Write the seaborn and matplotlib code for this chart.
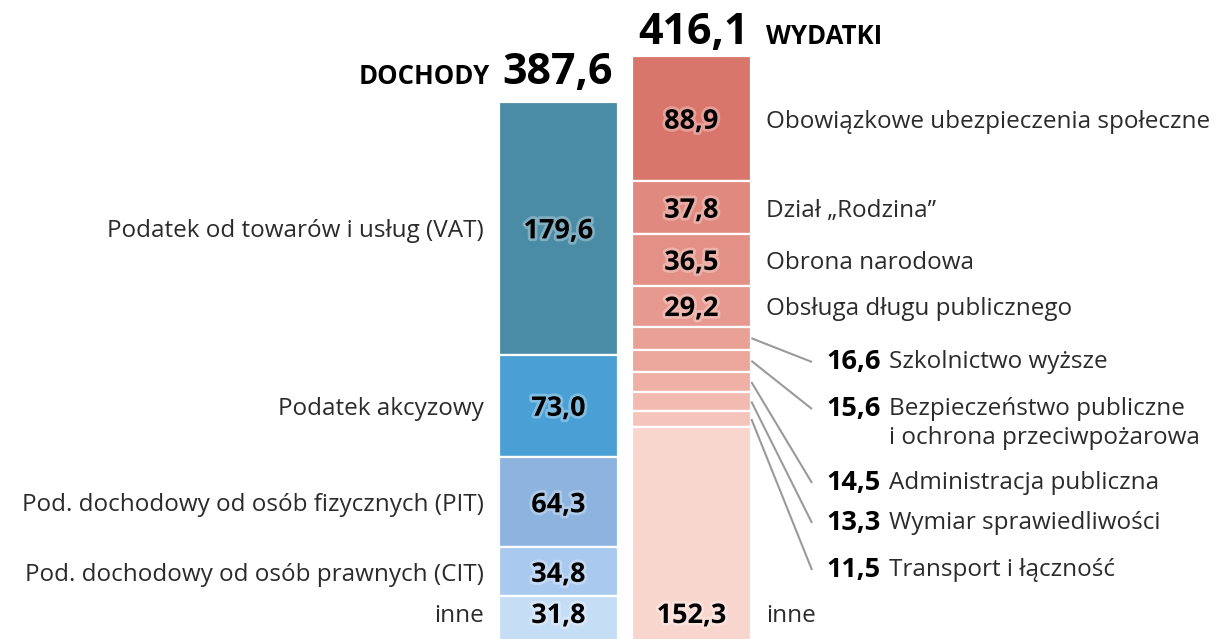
import matplotlib
matplotlib.use("Agg")
import matplotlib.pyplot as plt
import matplotlib.patheffects as pe
import matplotlib.colors as mcolors
import seaborn as sns
import numpy as np

# ---- data ----
bars = ["DOCHODY", "WYDATKI"]
totals = ["387,6", "416,1"]

income_labels = ["Podatek od towarów i usług (VAT)", "Podatek akcyzowy",
                 "Pod. dochodowy od osób fizycznych (PIT)",
                 "Pod. dochodowy od osób prawnych (CIT)", "inne"]
income_values = [179.6, 73.0, 64.3, 34.8, 31.8]
income_colors = ["#4a8ca6", "#4aa0d5", "#8db3df", "#a9c9ee", "#c6ddf6"]

spend_labels = ["Obowiązkowe ubezpieczenia społeczne", "Dział „Rodzina”",
                "Obrona narodowa", "Obsługa długu publicznego",
                "Szkolnictwo wyższe",
                "Bezpieczeństwo publiczne\ni ochrona przeciwpożarowa",
                "Administracja publiczna", "Wymiar sprawiedliwości",
                "Transport i łączność", "inne"]
spend_values = [88.9, 37.8, 36.5, 29.2, 16.6, 15.6, 14.5, 13.3, 11.5, 152.3]
spend_colors = ["#d9766c", "#e0897f", "#e39186", "#e6998e", "#e9a095",
                "#eca79c", "#efb0a6", "#f2bab1", "#f5c5bc", "#f9d6cd"]

def fmt(v):
    return f"{v:.1f}".replace(".", ",")

sns.set_theme(style="white")
plt.rcParams["font.family"] = ["Open Sans", "DejaVu Sans"]

W, H = 1218, 639
fig = plt.figure(figsize=(W / 100, H / 100), dpi=100)
ax = fig.add_axes([0, 0, 1, 1])

# pixel <-> data helpers (layout only)
CX0, STEP = 558.5, 133.0
BASE, SCALE = 641.0, 1.405
def xd(px):
    return (px - CX0) / STEP
def yd(py):
    return (BASE - py) / SCALE

BW = 0.9

def glow(c):
    rgb = np.array(mcolors.to_rgb(c))
    return tuple(rgb + (1 - rgb) * 0.3)

def stack(cat, values, colors):
    segs = []
    bottom = sum(values)
    for v, c in zip(values, colors):
        bottom -= v
        sns.barplot(x=[cat], y=[v], bottom=[bottom], color=c, order=bars,
                    width=BW, edgecolor="white", linewidth=1.6,
                    saturation=1, ax=ax)
        segs.append((bottom, bottom + v))
    return segs

inc_seg = stack("DOCHODY", income_values, income_colors)
sp_seg = stack("WYDATKI", spend_values, spend_colors)
ax.set_xlim(xd(0), xd(W))
ax.set_ylim(yd(H), yd(0))
ax.axis("off")

valfs = 19.5
labfs = 17.5
lab_col = "#2b2b2b"
DY = 3 / SCALE  # text sits slightly below the segment centre

def val(x, y, v, c, ha="center", halo=True):
    kw = {}
    if halo:
        kw["path_effects"] = [pe.withStroke(linewidth=4, foreground=glow(c))]
    ax.text(x, y, fmt(v), ha=ha, va="center", fontsize=valfs,
            fontweight="bold", color="black", **kw)

# income labels
for i, (lab, v, c, (b, t)) in enumerate(zip(income_labels, income_values,
                                             income_colors, inc_seg)):
    yc = (b + t) / 2 - DY
    if i == len(income_values) - 1:
        yc = yd(616)
    val(0, yc, v, c)
    ax.text(xd(484), yc, lab, ha="right", va="center", fontsize=labfs,
            color=lab_col)

# spending labels
small_y = [362, 409, 483, 523, 570]
for i, (lab, v, c, (b, t)) in enumerate(zip(spend_labels, spend_values,
                                             spend_colors, sp_seg)):
    yc = (b + t) / 2
    if i < 4 or i == len(spend_values) - 1:
        y0 = yc - DY if i < 4 else yd(616)
        val(1, y0, v, c)
        ax.text(xd(766), y0, lab, ha="left", va="center", fontsize=labfs,
                color=lab_col)
    else:
        ly = yd(small_y[i - 4])
        ax.plot([1 + BW / 2, xd(812)], [yc, ly], color="#9a9a9a", lw=1.5,
                solid_capstyle="butt")
        val(xd(881), ly, v, c, ha="right", halo=False)
        lines = lab.split("\n")
        ax.text(xd(889), ly, lines[0], ha="left", va="center",
                fontsize=labfs, color=lab_col)
        if len(lines) > 1:
            ax.text(xd(889), ly - 29 / SCALE, lines[1], ha="left",
                    va="center", fontsize=labfs, color=lab_col)

# headers
inc_top = sum(income_values)
sp_top = sum(spend_values)
ax.text(xd(613), yd(84), totals[0], ha="right", va="baseline",
        fontsize=31, fontweight="bold", color="black")
ax.text(xd(490), yd(84), bars[0], ha="right", va="baseline",
        fontsize=18.5, fontweight="bold", color="black")
ax.text(xd(749), yd(44), totals[1], ha="right", va="baseline",
        fontsize=31, fontweight="bold", color="black")
ax.text(xd(766), yd(44), bars[1], ha="left", va="baseline",
        fontsize=18.5, fontweight="bold", color="black")

fig.savefig("out.png", dpi=100)
